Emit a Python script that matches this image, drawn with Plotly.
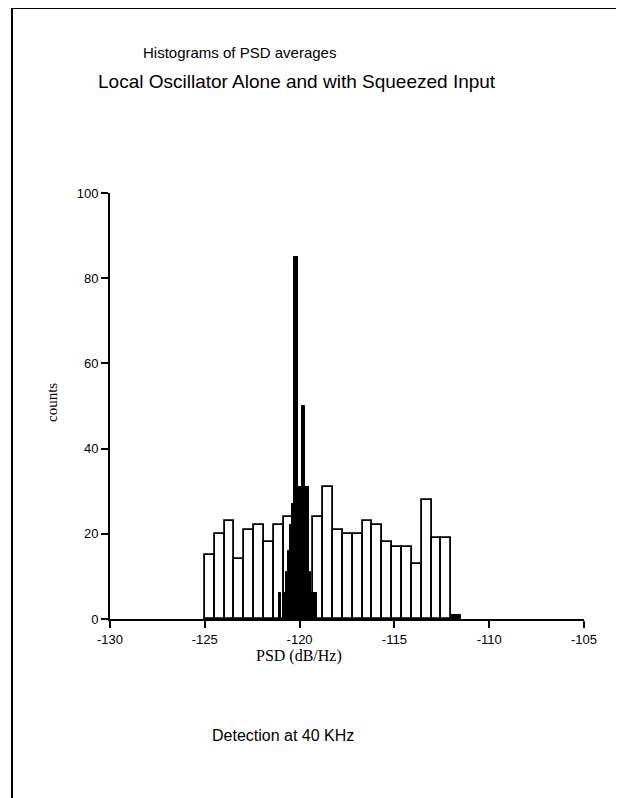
import plotly.graph_objects as go

# ---- data ----
# Local oscillator alone (open bars): bin edges and counts
lo_edges = [-125.00, -124.48, -123.96, -123.44, -122.92, -122.40, -121.88, -121.36,
            -120.84, -120.32, -119.80, -119.28, -118.76, -118.24, -117.72, -117.20,
            -116.68, -116.16, -115.64, -115.12, -114.60, -114.08, -113.56, -113.04,
            -112.52, -112.00]
lo_counts = [15, 20, 23, 14, 21, 22, 18, 22, 24, 24, 5, 24, 31, 21, 20, 20,
             23, 22, 18, 17, 17, 13, 28, 19, 19]

# With squeezed input (filled bars): left edge, right edge, counts
sq_left = [-121.10, -120.90, -120.70, -120.60, -120.50, -120.40, -120.30,
           -120.10, -119.90, -119.70, -119.50, -119.40, -112.00]
sq_right = [-121.00, -120.70, -120.60, -120.50, -120.40, -120.30, -120.10,
            -119.90, -119.70, -119.50, -119.40, -119.10, -111.50]
sq_counts = [6, 6, 11, 16, 22, 27, 85, 31, 50, 31, 11, 6, 1]

x_ticks = [-130, -125, -120, -115, -110, -105]
x_tick_labels = ["-130", "-125", "-120", "-115", "-110", "-105"]
y_ticks = [0, 20, 40, 60, 80, 100]
y_tick_labels = ["0", "20", "40", "60", "80", "100"]

title_1 = "Histograms of PSD averages"
title_2 = "Local Oscillator Alone and with Squeezed Input"
x_label = "PSD (dB/Hz)"
y_label = "counts"
footer = "Detection at 40 KHz"

# ---- figure ----
lo_x = [(a + b) / 2 for a, b in zip(lo_edges[:-1], lo_edges[1:])]
lo_w = [b - a for a, b in zip(lo_edges[:-1], lo_edges[1:])]
sq_x = [(a + b) / 2 for a, b in zip(sq_left, sq_right)]
sq_w = [b - a for a, b in zip(sq_left, sq_right)]

fig = go.Figure()
fig.add_trace(go.Bar(x=lo_x, y=lo_counts, width=lo_w, name="LO alone",
                     marker=dict(color="white", line=dict(color="black", width=1.8))))
fig.add_trace(go.Bar(x=sq_x, y=sq_counts, width=sq_w, name="Squeezed input",
                     marker=dict(color="black", line=dict(color="black", width=1))))

sans = "Liberation Sans, Arial, sans-serif"
serif = "Liberation Serif, Times New Roman, serif"

# page body has an 8px margin, so the figure is laid out 8px up/left
fig.update_layout(
    width=616, height=790,
    margin=dict(l=102, r=40, t=185, b=179),
    paper_bgcolor="white", plot_bgcolor="white",
    barmode="overlay", bargap=0, showlegend=False,
    font=dict(family=sans, color="black"),
)
fig.update_xaxes(range=[-130, -105], tickvals=x_ticks, ticktext=x_tick_labels,
                 showline=True, linecolor="black", linewidth=2, ticks="outside",
                 ticklen=7, tickwidth=1.5, tickcolor="black", showgrid=False,
                 zeroline=False, tickfont=dict(family=sans, size=13, color="black"))
fig.update_yaxes(range=[0, 100], tickvals=y_ticks, ticktext=y_tick_labels,
                 showline=True, linecolor="black", linewidth=2, ticks="outside",
                 ticklen=7, tickwidth=1.5, tickcolor="black", showgrid=False,
                 zeroline=False, tickfont=dict(family=sans, size=13, color="black"))

W, H = 474.0, 426.0
def px(x):
    return (x - 110) / W
def py(y):
    return (619 - y) / H

def note(text, x, y, family, size, angle=0):
    fig.add_annotation(text=text, x=px(x), y=py(y), xref="paper", yref="paper",
                       xanchor="center", yanchor="middle", showarrow=False,
                       textangle=angle, font=dict(family=family, size=size))

note(title_1, 239, 52, sans, 15)
note(title_2, 297, 82, sans, 19)
note(x_label, 299, 656, serif, 16)
note(y_label, 52, 403, serif, 15, angle=-90)
note(footer, 283, 735, sans, 16)

# page frame (left and top edges)
fig.add_shape(type="line", xref="paper", yref="paper", x0=px(12), x1=px(12),
              y0=py(8), y1=py(810), line=dict(color="black", width=2))
fig.add_shape(type="line", xref="paper", yref="paper", x0=px(12), x1=px(640),
              y0=py(8), y1=py(8), line=dict(color="black", width=2))

fig.write_html("out.html")
